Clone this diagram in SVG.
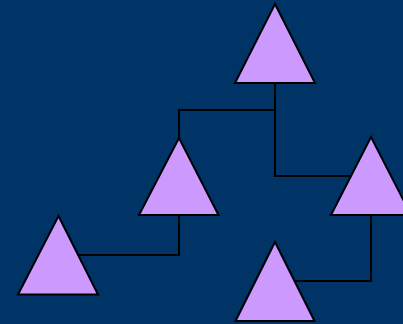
<svg xmlns="http://www.w3.org/2000/svg" width="403" height="324" viewBox="0 0 403 324">
<style>
.tri{fill:#CC99FF;stroke:#000;stroke-width:2;stroke-linejoin:miter}
.con{fill:none;stroke:#000;stroke-width:2}
</style>
<rect width="403" height="324" fill="#003366"/>
<g id="connectors">
<path class="con" d="M275,83 V110 H179 V138"/>
<path class="con" d="M275,110 V176 H371"/>
<path class="con" d="M179,215 V255 H58"/>
<path class="con" d="M371,215 V281 H275"/>
</g>
<g id="node-top"><polygon class="tri" points="275,4 315,83 235,83"/></g>
<g id="node-mid"><polygon class="tri" points="179,138 218.5,215 139,215"/></g>
<g id="node-right"><polygon class="tri" points="371,137 411,215 331,215"/></g>
<g id="node-left"><polygon class="tri" points="58.5,216 98,294.5 18,294.5"/></g>
<g id="node-bottom"><polygon class="tri" points="275,242 314.5,321 235.5,321"/></g>
</svg>
